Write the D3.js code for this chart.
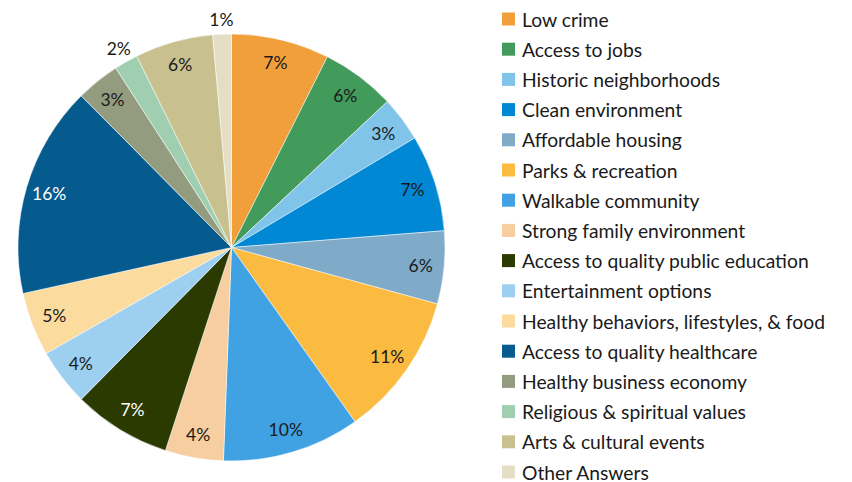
<!DOCTYPE html>
<html>
<head>
<meta charset="utf-8">
<script src="https://cdn.jsdelivr.net/npm/d3@7"></script>
<style>
  html, body { margin: 0; padding: 0; background: #fff; }
  svg { display: block; font-family: Lato, "Noto Sans", sans-serif; }
</style>
</head>
<body>
<svg id="chart" width="852" height="482"></svg>
<script>
// categories, in legend / slice order
const categories = [
  'Low crime', 'Access to jobs', 'Historic neighborhoods', 'Clean environment',
  'Affordable housing', 'Parks & recreation', 'Walkable community',
  'Strong family environment', 'Access to quality public education',
  'Entertainment options', 'Healthy behaviors, lifestyles, & food',
  'Access to quality healthcare', 'Healthy business economy',
  'Religious & spiritual values', 'Arts & cultural events', 'Other Answers'
]

// share of answers, percent
const values = [7.4, 5.6, 3.4, 7.3, 5.5, 10.9, 10.4, 4.4, 7.4, 4.3, 4.8, 16.0, 3.3, 1.8, 5.9, 1.4]

const colors = [
  '#F19F3B', '#429B5A', '#80C4EA', '#0088D4', '#7FABC8', '#FBBA40', '#40A2E2', '#F7CE9F',
  '#2B3A00', '#9DD0F0', '#FBDB9E', '#055A8E', '#949C80', '#9FCFB0', '#C8C08F', '#E4DEC6'
]

// slices whose label sits outside the pie / uses white text
const outsideLabels = [ 'Religious & spiritual values', 'Other Answers' ]
const whiteLabels = [ 'Access to quality public education', 'Access to quality healthcare' ]

const svg = d3.select('#chart')
const cx = 231.5, cy = 247.5, radius = 213.5

const color = d3.scaleOrdinal().domain(categories).range(colors)
const fmt = d3.format('.0f')

const arc = d3.arc().innerRadius(0).outerRadius(radius)
const labelArc = d3.arc().innerRadius(radius * 0.89).outerRadius(radius * 0.89)
const outerArc = d3.arc().innerRadius(radius * 1.07).outerRadius(radius * 1.07)

const pie = d3.pie().sort(null).value(d => d.value)
const slices = pie(categories.map((name, i) => ({ name, value: values[i] })))

const g = svg.append('g').attr('transform', `translate(${cx},${cy})`)

g.selectAll('path')
  .data(slices)
  .enter().append('path')
    .attr('d', arc)
    .attr('fill', d => color(d.data.name))
    .attr('stroke', '#fff')
    .attr('stroke-width', 0.5)

g.selectAll('text')
  .data(slices)
  .enter().append('text')
    .attr('transform', d => {
      const c = outsideLabels.includes(d.data.name) ? outerArc.centroid(d) : labelArc.centroid(d)
      return `translate(${c[0]},${c[1]})`
    })
    .attr('text-anchor', 'middle')
    .attr('dominant-baseline', 'central')
    .attr('font-size', 17.5)
    .attr('fill', d => whiteLabels.includes(d.data.name) ? '#fff' : '#1a1a1a')
    .text(d => fmt(d.data.value) + '%')

// legend
const legendY = d3.scalePoint().domain(categories).range([19, 472])

const legend = svg.append('g')
  .selectAll('g')
  .data(categories)
  .enter().append('g')
    .attr('transform', d => `translate(502,${legendY(d)})`)

legend.append('rect')
  .attr('x', 0).attr('y', -6.5)
  .attr('width', 13).attr('height', 13)
  .attr('fill', d => color(d))

legend.append('text')
  .attr('x', 20)
  .attr('dominant-baseline', 'central')
  .attr('font-size', 19.3)
  .attr('fill', '#1a1a1a')
  .text(d => d)
</script>
</body>
</html>
